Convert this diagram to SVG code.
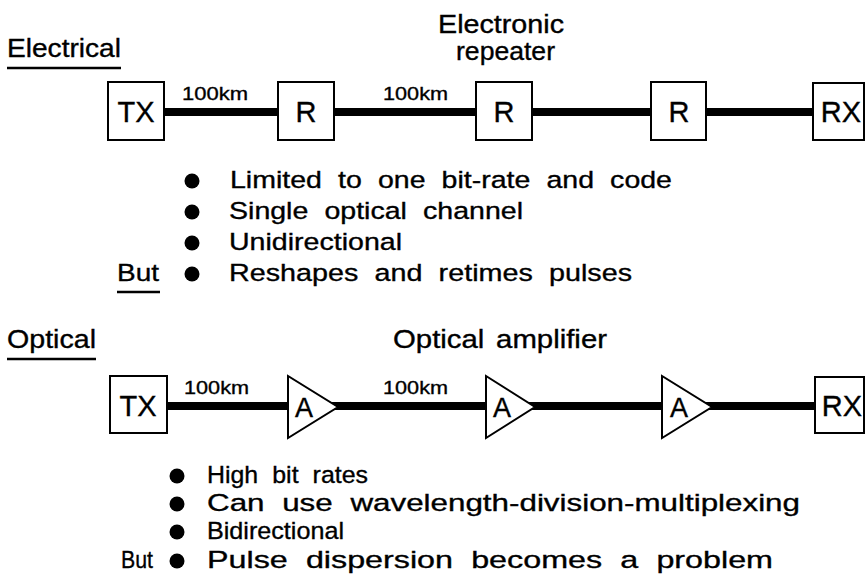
<svg xmlns="http://www.w3.org/2000/svg" width="866" height="582" viewBox="0 0 866 582">
<style>
text{font-family:"Liberation Sans",Arial,Helvetica,sans-serif;fill:#000;stroke:#000;stroke-width:0.35}
.t{font-size:25px;word-spacing:3px}
.km{font-size:19px}
.lb{font-size:29px;text-anchor:middle}
.bl{font-size:24.5px;word-spacing:7px}
.box{fill:#fff;stroke:#000;stroke-width:2}
.wire{stroke:#000;stroke-width:8;fill:none}
.ul{stroke:#000;stroke-width:2.5}
</style>
<rect width="866" height="582" fill="#fff"/>
<g id="connectors">
<line class="wire" x1="164" y1="112" x2="813" y2="112"/>
<line class="wire" x1="167" y1="406" x2="815" y2="406"/>
</g>
<g id="labels-electrical">
<text class="t" x="7" y="57" textLength="114" lengthAdjust="spacingAndGlyphs">Electrical</text>
<line class="ul" x1="7" y1="68" x2="121" y2="68"/>
<text class="t" x="438" y="33" textLength="126" lengthAdjust="spacingAndGlyphs">Electronic</text>
<text class="t" x="456" y="60" textLength="99" lengthAdjust="spacingAndGlyphs">repeater</text>
<text class="km" x="182" y="100" textLength="66" lengthAdjust="spacingAndGlyphs">100km</text>
<text class="km" x="383" y="100" textLength="65" lengthAdjust="spacingAndGlyphs">100km</text>
</g>
<g id="e-tx"><rect class="box" x="108" y="82" width="56" height="58"/><text class="lb" x="136" y="122">TX</text></g>
<g id="e-r1"><rect class="box" x="278" y="82" width="56" height="58"/><text class="lb" x="306" y="122">R</text></g>
<g id="e-r2"><rect class="box" x="476" y="82" width="56" height="58"/><text class="lb" x="504" y="122">R</text></g>
<g id="e-r3"><rect class="box" x="651" y="82" width="55" height="58"/><text class="lb" x="679" y="122">R</text></g>
<g id="e-rx"><rect class="box" x="813" y="83" width="51" height="57"/><text class="lb" x="841" y="122">RX</text></g>
<g id="bullets-electrical">
<circle cx="192" cy="181" r="7.5"/><text class="bl" x="230" y="188" textLength="442" lengthAdjust="spacingAndGlyphs">Limited to one bit-rate and code</text>
<circle cx="192" cy="212" r="7.5"/><text class="bl" x="229" y="219" textLength="294" lengthAdjust="spacingAndGlyphs">Single optical channel</text>
<circle cx="192" cy="243" r="7.5"/><text class="bl" x="229" y="250" textLength="173" lengthAdjust="spacingAndGlyphs">Unidirectional</text>
<text class="bl" x="117" y="281" textLength="42" lengthAdjust="spacingAndGlyphs">But</text>
<line class="ul" x1="117" y1="292" x2="160" y2="292"/>
<circle cx="192" cy="274" r="7.5"/><text class="bl" x="229" y="281" textLength="403" lengthAdjust="spacingAndGlyphs">Reshapes and retimes pulses</text>
</g>
<g id="labels-optical">
<text class="t" x="7" y="348" textLength="89" lengthAdjust="spacingAndGlyphs">Optical</text>
<line class="ul" x1="7" y1="359" x2="96" y2="359"/>
<text class="t" x="393" y="348" textLength="214" lengthAdjust="spacingAndGlyphs">Optical amplifier</text>
<text class="km" x="184" y="394" textLength="65" lengthAdjust="spacingAndGlyphs">100km</text>
<text class="km" x="383" y="394" textLength="65" lengthAdjust="spacingAndGlyphs">100km</text>
</g>
<g id="o-tx"><rect class="box" x="110" y="376" width="57" height="57"/><text class="lb" x="138" y="416">TX</text></g>
<g id="o-a1"><polygon class="box" points="288,376 288,438 338,407"/><text class="lb" x="304" y="417" style="font-size:27px">A</text></g>
<g id="o-a2"><polygon class="box" points="486,376 486,438 535,407"/><text class="lb" x="502" y="417" style="font-size:27px">A</text></g>
<g id="o-a3"><polygon class="box" points="662,376 662,438 712,407"/><text class="lb" x="679" y="417" style="font-size:27px">A</text></g>
<g id="o-rx"><rect class="box" x="815" y="377" width="49" height="56"/><text class="lb" x="842" y="416">RX</text></g>
<g id="bullets-optical">
<circle cx="177" cy="476" r="7.5"/><text class="bl" x="207" y="483" textLength="161" lengthAdjust="spacingAndGlyphs">High bit rates</text>
<circle cx="177" cy="504" r="7.5"/><text class="bl" x="207" y="511" textLength="593" lengthAdjust="spacingAndGlyphs">Can use wavelength-division-multiplexing</text>
<circle cx="177" cy="532" r="7.5"/><text class="bl" x="207" y="539" textLength="137" lengthAdjust="spacingAndGlyphs">Bidirectional</text>
<text class="bl" x="121" y="568" textLength="32" lengthAdjust="spacingAndGlyphs">But</text>
<circle cx="177" cy="561" r="7.5"/><text class="bl" x="207" y="568" textLength="566" lengthAdjust="spacingAndGlyphs">Pulse dispersion becomes a problem</text>
</g>
</svg>
